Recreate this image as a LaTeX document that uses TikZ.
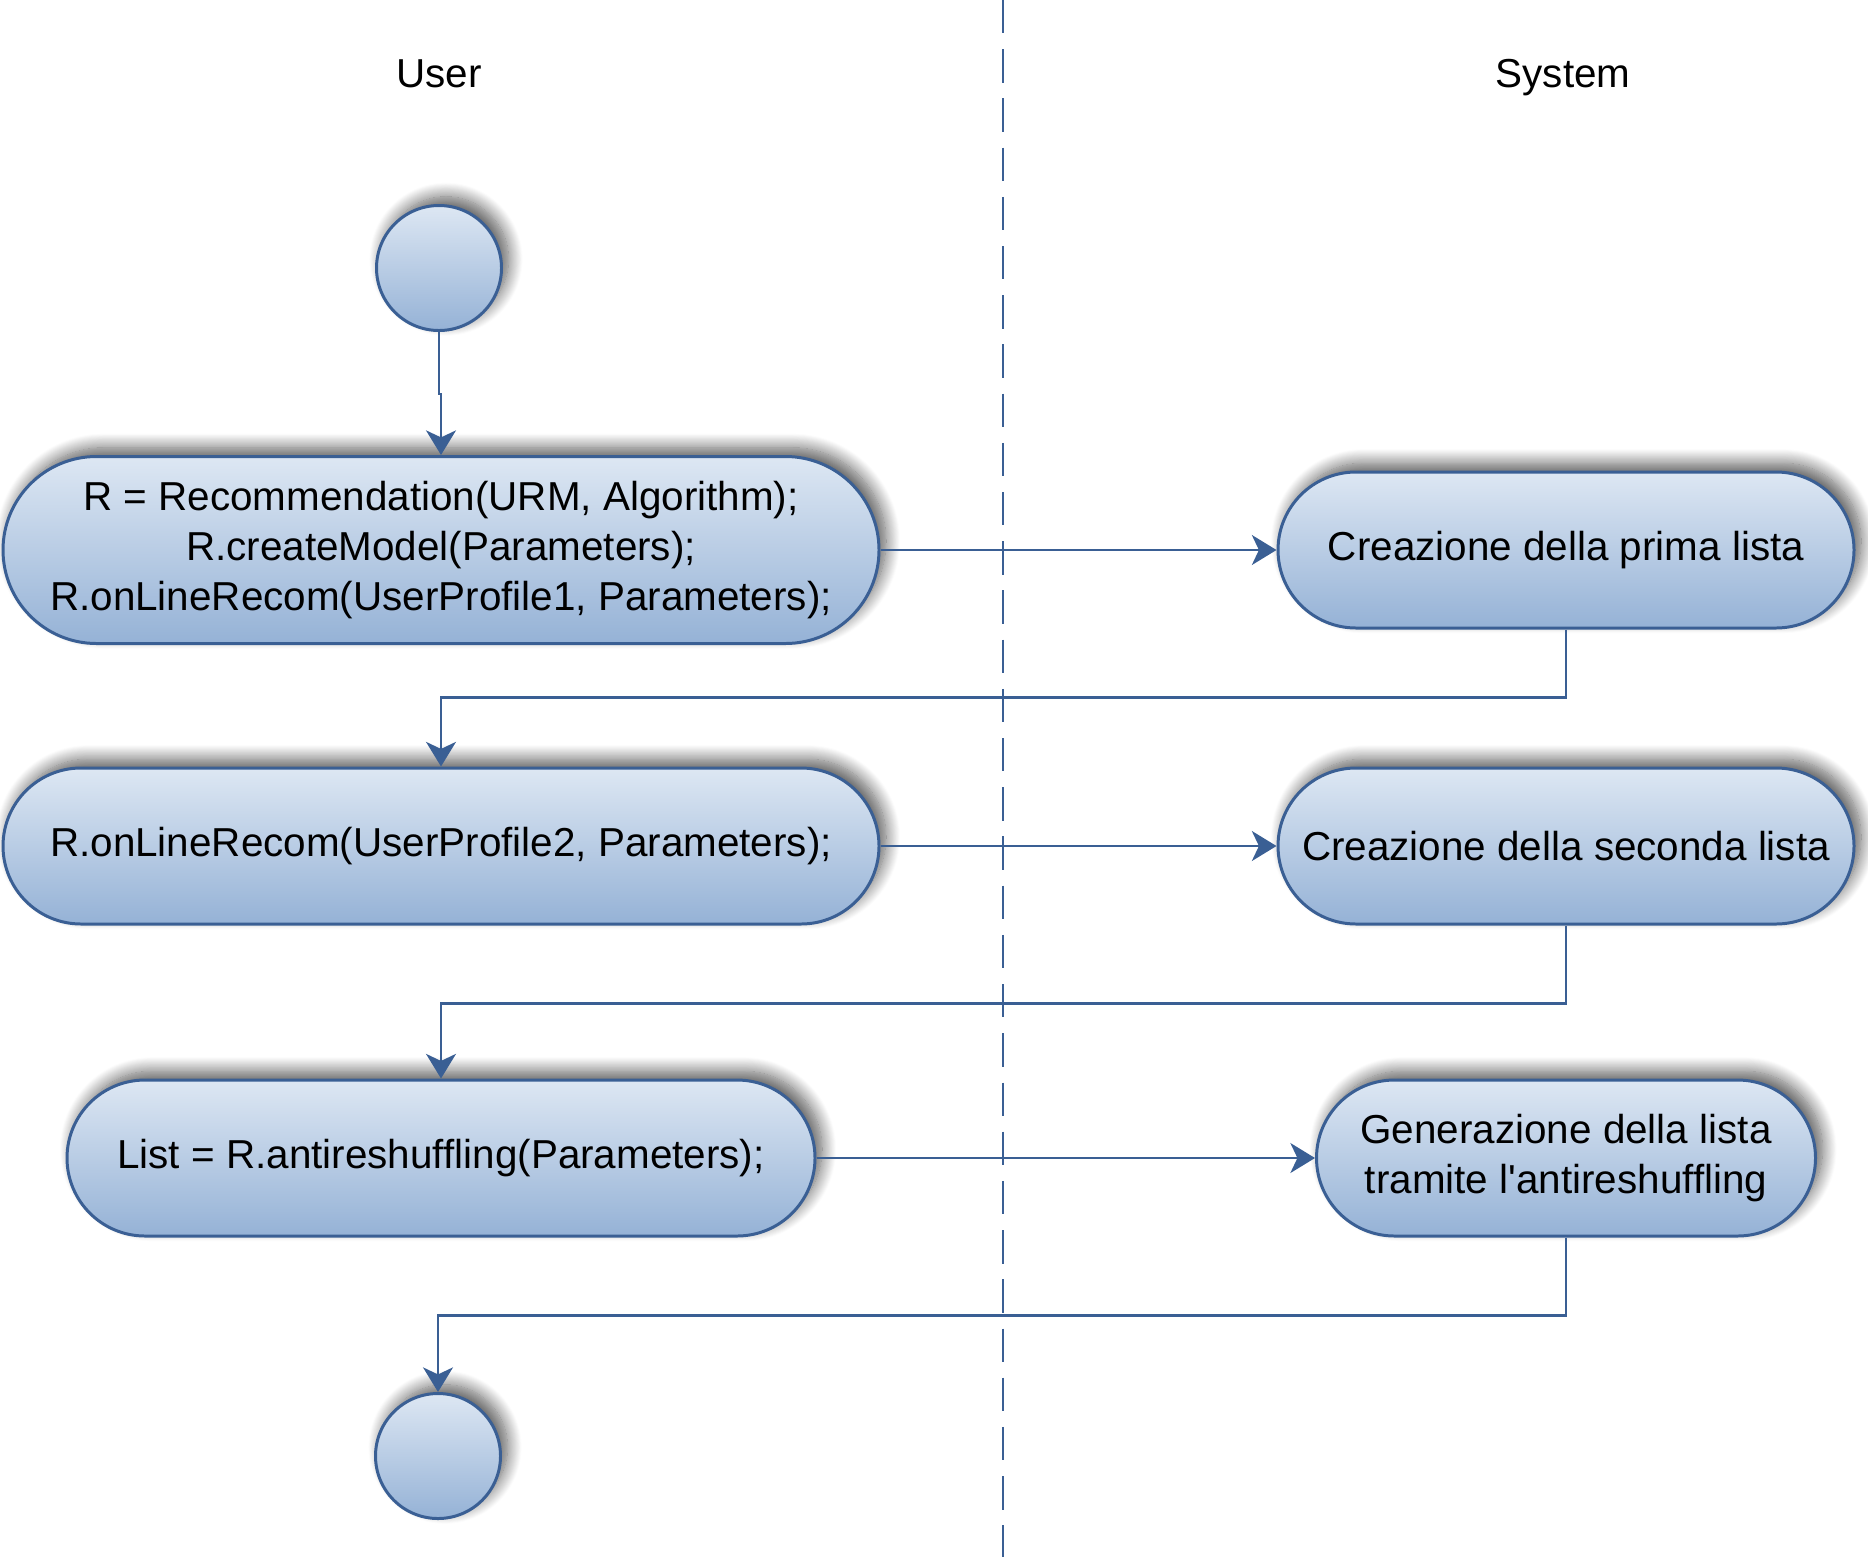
\documentclass[tikz,border=0pt]{standalone}
\usepackage{fontspec}
\setmainfont{Liberation Sans}
\usetikzlibrary{positioning,shapes.misc,arrows.meta,shadows.blur}
\definecolor{flowblue}{RGB}{58,95,148}
\definecolor{filltop}{RGB}{221,231,243}
\definecolor{fillbot}{RGB}{149,178,214}
\tikzset{
  actshadow/.style={blur shadow={shadow xshift=4pt,shadow yshift=5pt,shadow blur radius=8pt,shadow blur steps=16,shadow opacity=65}},
  activity/.style={rounded rectangle,draw=flowblue,line width=1.7pt,top color=filltop,bottom color=fillbot,
    align=center,minimum height=3.12cm,inner sep=0pt,actshadow,
    font=\fontsize{23}{28.6}\selectfont},
  endpoint/.style={circle,draw=flowblue,line width=1.7pt,top color=filltop,bottom color=fillbot,
    minimum size=2.5cm,inner sep=0pt,actshadow},
  flow/.style={draw=flowblue,line width=1.6pt,-{Stealth[length=14pt,width=17pt,inset=4pt]}},
  lanetitle/.style={anchor=base,font=\fontsize{23}{28.6}\selectfont},
}
\begin{document}
\begin{tikzpicture}
\pgfmathsetmacro{\laneX}{20.06}
\useasboundingbox (0,0) rectangle (37.36,-31.14);
%lanes
\draw[flowblue,line width=1.5pt,dash pattern=on 19pt off 9pt] (\laneX,0)coordinate(lt)--(\laneX,-31.14)coordinate(lb);
\node[lanetitle] (user) at (8.78,-1.74) {User};
\node[lanetitle] (sys) at (31.26,-1.74) {System};
%activities
\node[endpoint] (start) at (8.78,-5.36) {};
\node[activity,minimum width=17.52cm,minimum height=3.74cm] (a1) at (8.82,-11.0)
  {R = Recommendation(URM, Algorithm);\\R.createModel(Parameters);\\R.onLineRecom(UserProfile1, Parameters);};
\node[activity,minimum width=11.52cm] (s1) at (31.32,-11.0) {Creazione della prima lista};
\node[activity,minimum width=17.52cm] (a2) at (8.82,-16.92) {R.onLineRecom(UserProfile2, Parameters);};
\node[activity,minimum width=11.52cm] (s2) at (31.32,-16.92) {Creazione della seconda lista};
\node[activity,minimum width=14.96cm] (a3) at (8.82,-23.16) {List = R.antireshuffling(Parameters);};
\node[activity,minimum width=9.98cm] (s3) at (31.32,-23.16) {Generazione della lista\\tramite l\textquotesingle antireshuffling};
\node[endpoint] (stop) at (8.76,-29.12) {};
%flows
\draw[flow] (start.south)--++(0,-1.24)-|(a1.north);
\draw[flow] (a1.east)--(s1.west);
\draw[flow] (s1.south)--++(0,-1.36)-|(a2.north);
\draw[flow] (a2.east)--(s2.west);
\draw[flow] (s2.south)--++(0,-1.56)-|(a3.north);
\draw[flow] (a3.east)--(s3.west);
\draw[flow] (s3.south)--++(0,-1.56)-|(stop.north);
\end{tikzpicture}
\end{document}
